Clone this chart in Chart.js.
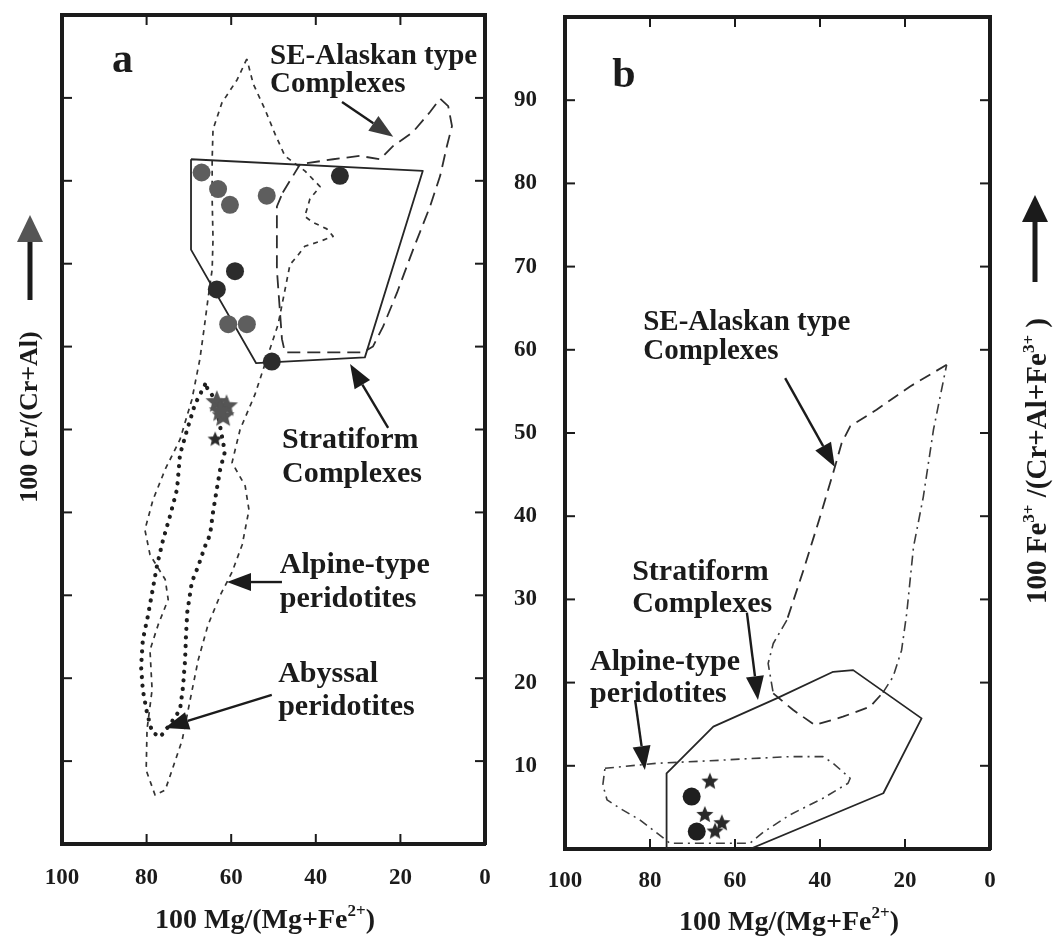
<!DOCTYPE html>
<html>
<head>
<meta charset="utf-8">
<script src="https://cdn.jsdelivr.net/npm/chart.js@4.4.0/dist/chart.umd.min.js"></script>
<style>
  body { margin: 0; background: #fff; }
  #wrap { position: relative; width: 1055px; height: 942px; }
  canvas { position: absolute; top: 0; }
  #chart-a { left: 0; }
  #chart-b { left: 500px; }
</style>
</head>
<body>
<div id="wrap">
  <canvas id="chart-a" width="520" height="942"></canvas>
  <canvas id="chart-b" width="555" height="942"></canvas>
</div>
<script>
// x = 100 Mg/(Mg+Fe2+), y = 100 Cr/(Cr+Al) (panel a) or 100 Fe3+/(Cr+Al+Fe3+) (panel b)
const xTickStep = 20;
const yTickStep = 10;

// panel a fields
const stratiformA = [[69.5,82.6],[14.7,81.2],[28.4,58.7],[54.1,58.0],[69.5,71.7],[69.5,82.6]];
const alaskanA = [[47.8,78.6],[43.7,82.0],[35.9,82.6],[29.6,83.0],[24.8,82.6],[21.7,84.2],[17.0,85.9],[13.0,88.3],
  [10.6,89.9],[8.7,89.0],[7.8,86.6],[9.0,84.2],[10.6,80.6],[13.0,76.9],[17.0,71.7],[20.8,66.5],[24.1,62.4],
  [26.5,60.0],[28.8,59.3],[47.3,59.3],[48.0,60.9],[49.2,69.3],[49.2,76.9],[47.8,78.6]];
const alpineA = [[56.3,94.7],[58.6,92.2],[62.2,89.4],[64.3,86.2],[64.5,82.6],[64.5,77.8],[64.3,73.0],[64.5,69.3],
  [65.5,65.7],[66.4,62.2],[67.4,58.5],[69.3,53.6],[72.1,48.8],[75.6,45.2],[78.5,41.5],[80.4,37.9],[79.2,34.9],
  [75.6,31.9],[74.9,29.5],[77.3,26.4],[79.2,23.4],[78.7,18.6],[79.9,13.8],[80.1,8.9],[78.0,5.9],[75.6,6.5],
  [74.0,8.9],[71.6,12.5],[69.7,17.4],[67.8,22.2],[65.5,26.4],[62.6,30.0],[59.8,32.8],[57.4,36.1],[55.8,40.3],
  [56.7,43.2],[59.8,46.0],[57.9,50.0],[54.4,54.2],[51.3,59.0],[48.9,62.7],[47.5,66.3],[46.1,69.9],[44.4,70.9],
  [42.6,72.1],[39.0,72.7],[35.9,73.3],[37.4,74.2],[40.7,75.0],[42.6,75.7],[41.4,77.8],[39.0,79.3],[42.6,81.2],
  [47.3,83.0],[49.6,85.6],[52.0,88.6],[54.8,91.7],[56.3,94.7]];
const abyssalA = [[66.2,55.4],[68.6,53.0],[70.4,50.0],[72.1,47.0],[72.8,42.8],[74.5,39.5],[76.1,36.7],[77.5,33.7],
  [78.7,30.3],[79.7,27.5],[80.9,24.6],[81.3,21.4],[80.9,18.6],[79.9,15.8],[78.7,13.5],[76.8,12.9],[74.5,14.4],
  [72.1,16.2],[71.4,18.9],[70.9,22.2],[70.7,25.0],[70.4,27.9],[69.3,31.6],[67.8,33.5],[66.2,35.9],[65.0,37.3],
  [64.3,40.0],[63.4,42.8],[62.6,45.2],[61.5,47.3],[63.8,53.6],[66.2,55.4]];

// panel a samples
const circlesGreyA = [[67.0,81.0],[63.1,79.0],[60.3,77.1],[51.6,78.2],[60.7,62.7],[56.3,62.7]];
const circlesDarkA = [[34.3,80.6],[59.1,69.1],[63.4,66.9],[50.4,58.2]];
const starsGreyA = [[63.4,53.3],[61.1,52.8],[61.9,51.6],[62.6,52.2]];
const starsDarkA = [[63.8,48.8]];

// panel b fields (null = break in the line)
const stratiformB = [[76.1,0],[76.1,9.1],[74.5,9.9],[65.1,14.7],[50.2,18.1],[36.9,21.3],[32.2,21.5],
  [16.1,15.7],[25.1,6.7],[56.5,0],[76.1,0]];
const alaskanDashB = [[10.2,58.2],[18.8,55.6],[26.7,52.8],[32.9,50.8],[34.9,48.8],[36.5,45.9],[40.0,39.9],
  [43.9,33.5],[47.8,27.5], null, [51.0,18.7],[46.3,16.7],[41.2,14.9],[34.6,15.9],[28.2,17.1],[25.2,18.8]];
const alaskanDotDashB = [[47.8,27.5],[51.0,24.7],[52.2,22.3],[51.0,18.7], null, [25.2,18.8],[22.8,20.7],
  [20.8,23.9],[19.6,28.3],[18.0,36.3],[15.7,42.3],[13.3,50.4],[11.4,55.2],[10.2,58.2]];
const alpineB = [[90.6,9.7],[78.4,10.3],[65.9,10.6],[58.8,10.8],[47.1,11.1],[39.3,11.1],[36.9,10.3],[32.9,8.5],
  [33.4,7.9],[39.3,6.1],[47.1,4.1],[53.4,2.0],[56.5,0.7],[75.3,0.7],[82.4,3.5],[87.1,4.9],[90.1,5.9],
  [91.1,7.7],[90.6,9.7]];

// panel b samples
const circlesB = [[70.2,6.3],[69.0,2.1]];
const starsB = [[65.9,8.1],[67.1,4.1],[63.1,3.1],[64.7,2.1]];

const ink = '#1b1b1b';
const serif = '"Liberation Serif", "Times New Roman", serif';

function pts(list) {
  return list.map(p => p ? { x: p[0], y: p[1] } : { x: null, y: null });
}

function starImage(r, color) {
  const c = document.createElement('canvas');
  c.width = c.height = Math.ceil(r * 2 + 2);
  const g = c.getContext('2d');
  const cx = c.width / 2, cy = c.height / 2;
  g.beginPath();
  for (let i = 0; i < 10; i++) {
    const rad = i % 2 ? r * 0.45 : r;
    const ang = -Math.PI / 2 + i * Math.PI / 5;
    g.lineTo(cx + rad * Math.cos(ang), cy + rad * Math.sin(ang));
  }
  g.closePath();
  g.fillStyle = color;
  g.fill();
  return c;
}

function outline(data, dash, color, width, cap) {
  return {
    data: pts(data), showLine: true, fill: false, pointRadius: 0, pointHoverRadius: 0,
    borderColor: color, borderWidth: width, borderDash: dash,
    borderCapStyle: cap || 'butt', borderJoinStyle: 'round', tension: 0, spanGaps: false
  };
}

function markers(data, style, radius, color) {
  return {
    data: pts(data), showLine: false, pointStyle: style, pointRadius: radius,
    pointHoverRadius: radius, backgroundColor: color, borderColor: color, borderWidth: 0
  };
}

// fixed axis sizes so the plot frame lands where the figure has it
function fixSize(prop, size) {
  return s => {
    s[prop] = size;
    s.paddingTop = s.paddingBottom = s.paddingLeft = s.paddingRight = 0;
  };
}

function frameScales(d) {
  const axis = extra => Object.assign({
    type: 'linear', min: 0, max: 100,
    grid: { display: false, drawTicks: false },
    border: { display: true, width: 4, color: ink }
  }, extra);
  const tickFont = { family: serif, size: 23, weight: 'bold' };
  return {
    x: axis({ position: 'bottom', reverse: true,
      ticks: { stepSize: xTickStep, font: tickFont, color: ink, padding: d.xPad },
      afterFit: fixSize('height', d.bottom) }),
    x2: axis({ position: 'top', reverse: true, ticks: { display: false, stepSize: xTickStep },
      afterFit: fixSize('height', d.top) }),
    y: axis({ position: 'left',
      ticks: { display: d.yLabels, stepSize: yTickStep, font: tickFont, color: ink, padding: d.yPad,
        callback: v => (v > 0 && v < 100 ? v : '') },
      afterFit: fixSize('width', d.left) }),
    y2: axis({ position: 'right', ticks: { display: false, stepSize: yTickStep },
      afterFit: fixSize('width', d.right) })
  };
}

// tick marks pointing into the plot on all four sides
const inwardTicks = {
  id: 'inwardTicks',
  afterDraw(chart) {
    const { ctx, chartArea: a } = chart;
    ctx.save();
    ctx.strokeStyle = ink;
    ctx.lineWidth = 2;
    for (const id of ['x', 'x2', 'y', 'y2']) {
      const s = chart.scales[id];
      s.ticks.forEach(t => {
        if (t.value <= s.min || t.value >= s.max) return;
        const p = s.getPixelForValue(t.value);
        ctx.beginPath();
        if (id === 'x') { ctx.moveTo(p, a.bottom); ctx.lineTo(p, a.bottom - 10); }
        if (id === 'x2') { ctx.moveTo(p, a.top); ctx.lineTo(p, a.top + 10); }
        if (id === 'y') { ctx.moveTo(a.left, p); ctx.lineTo(a.left + 10, p); }
        if (id === 'y2') { ctx.moveTo(a.right, p); ctx.lineTo(a.right - 10, p); }
        ctx.stroke();
      });
    }
    ctx.restore();
  }
};

function arrow(ctx, x1, y1, x2, y2, head, len, half, width) {
  const a = Math.atan2(y2 - y1, x2 - x1);
  const bx = x2 - len * Math.cos(a), by = y2 - len * Math.sin(a);
  ctx.strokeStyle = ink;
  ctx.lineWidth = width;
  ctx.beginPath();
  ctx.moveTo(x1, y1);
  ctx.lineTo(bx, by);
  ctx.stroke();
  ctx.fillStyle = head;
  ctx.beginPath();
  ctx.moveTo(x2, y2);
  ctx.lineTo(bx + half * Math.sin(a), by - half * Math.cos(a));
  ctx.lineTo(bx - half * Math.sin(a), by + half * Math.cos(a));
  ctx.closePath();
  ctx.fill();
}

// text with superscripts, centred on x, baseline y
function richText(ctx, parts, x, y, size) {
  const fontOf = p => `bold ${p.sup ? Math.round(size * 0.6) : size}px ${serif}`;
  const widths = parts.map(p => { ctx.font = fontOf(p); return ctx.measureText(p.t).width; });
  let cx = x - widths.reduce((s, w) => s + w, 0) / 2;
  ctx.textAlign = 'left';
  ctx.textBaseline = 'alphabetic';
  parts.forEach((p, i) => {
    ctx.font = fontOf(p);
    ctx.fillText(p.t, cx, p.sup ? y - size * 0.42 : y);
    cx += widths[i];
  });
}

function notesPlugin(n) {
  return {
    id: 'notes',
    afterDraw(chart) {
      const { ctx } = chart;
      const sx = chart.scales.x, sy = chart.scales.y;
      const px = p => [sx.getPixelForValue(p[0]), sy.getPixelForValue(p[1])];
      ctx.save();
      ctx.fillStyle = ink;
      ctx.textAlign = 'left';
      ctx.textBaseline = 'alphabetic';
      // panel letter
      ctx.font = `bold 42px ${serif}`;
      const [lx, ly] = px(n.letter.at);
      ctx.fillText(n.letter.t, lx, ly);
      // field labels
      n.labels.forEach(l => {
        ctx.font = `bold ${l.size || 30}px ${serif}`;
        const [x, y] = px(l.at);
        l.text.forEach((line, i) => ctx.fillText(line, x, y + i * l.lead));
      });
      // pointer arrows
      n.arrows.forEach(ar => {
        const [x1, y1] = px(ar.from);
        const [x2, y2] = px(ar.to);
        arrow(ctx, x1, y1, x2, y2, ar.head || ink, 24, 9, 2.4);
      });
      // x title
      ctx.fillStyle = ink;
      richText(ctx, n.xTitle.parts, n.xTitle.x, n.xTitle.y, 28);
      // y title, rotated, with its arrow
      ctx.save();
      ctx.translate(n.yTitle.x, n.yTitle.y);
      ctx.rotate(-Math.PI / 2);
      ctx.fillStyle = ink;
      richText(ctx, n.yTitle.parts, 0, n.yTitle.size * 0.35, n.yTitle.size);
      ctx.restore();
      const ya = n.yArrow;
      arrow(ctx, ya.x, ya.from, ya.x, ya.to, ya.head, 27, 13, 5);
      ctx.restore();
    }
  };
}

const notesA = {
  letter: { t: 'a', at: [88.2, 93.1] },
  labels: [
    { text: ['SE-Alaskan type', 'Complexes'], at: [50.8, 94.1], lead: 28, size: 29 },
    { text: ['Stratiform', 'Complexes'], at: [48.0, 47.8], lead: 34 },
    { text: ['Alpine-type', 'peridotites'], at: [48.5, 32.7], lead: 34 },
    { text: ['Abyssal', 'peridotites'], at: [48.9, 19.6], lead: 33 }
  ],
  arrows: [
    { from: [33.8, 89.5], to: [21.7, 85.3], head: '#3c3c3c' },
    { from: [22.9, 50.2], to: [31.9, 57.9] },
    { from: [48.0, 31.6], to: [61.0, 31.6] },
    { from: [50.4, 18.0], to: [75.7, 14.0] }
  ],
  xTitle: { x: 265, y: 928, parts: [{ t: '100 Mg/(Mg+Fe' }, { t: '2+', sup: true }, { t: ')' }] },
  yTitle: { x: 28, y: 417, size: 26, parts: [{ t: '100 Cr/(Cr+Al)' }] },
  yArrow: { x: 30, from: 300, to: 215, head: '#555' }
};

const notesB = {
  letter: { t: 'b', at: [88.9, 91.6] },
  labels: [
    { text: ['SE-Alaskan type', 'Complexes'], at: [81.6, 62.4], lead: 29, size: 29 },
    { text: ['Stratiform', 'Complexes'], at: [84.2, 32.3], lead: 32 },
    { text: ['Alpine-type', 'peridotites'], at: [94.1, 21.5], lead: 32 }
  ],
  arrows: [
    { from: [48.2, 56.6], to: [36.5, 45.9] },
    { from: [57.2, 28.4], to: [54.6, 17.9] },
    { from: [83.5, 17.9], to: [81.2, 9.5] }
  ],
  xTitle: { x: 289, y: 930, parts: [{ t: '100 Mg/(Mg+Fe' }, { t: '2+', sup: true }, { t: ')' }] },
  yTitle: { x: 536, y: 461, size: 29, parts: [{ t: '100 Fe' }, { t: '3+', sup: true },
    { t: ' /(Cr+Al+Fe' }, { t: '3+', sup: true }, { t: ' )' }] },
  yArrow: { x: 535, from: 282, to: 195, head: ink }
};

function makeChart(id, datasets, dims, notes) {
  return new Chart(document.getElementById(id), {
    type: 'scatter',
    data: { datasets },
    options: {
      responsive: false,
      animation: false,
      events: [],
      layout: { padding: 0 },
      plugins: { legend: { display: false }, tooltip: { enabled: false } },
      scales: frameScales(dims)
    },
    plugins: [inwardTicks, notesPlugin(notes)]
  });
}

const chartA = makeChart('chart-a', [
  markers(starsDarkA, starImage(8, '#2a2a2a'), 8, '#2a2a2a'),
  markers(starsGreyA, starImage(12, '#555'), 12, '#555'),
  markers(circlesDarkA, 'circle', 9, '#2c2c2c'),
  markers(circlesGreyA, 'circle', 9, '#5e5e5e'),
  outline(stratiformA, [], '#262626', 1.8),
  outline(alaskanA, [13, 7], '#2e2e2e', 1.8),
  outline(alpineA, [5, 5], '#333', 1.7),
  outline(abyssalA, [0.1, 8.5], '#1e1e1e', 4.2, 'round')
], { left: 62, right: 35, top: 15, bottom: 98, xPad: 20, yPad: 28, yLabels: false }, notesA);

const chartB = makeChart('chart-b', [
  markers(starsB, starImage(9, '#2a2a2a'), 9, '#2a2a2a'),
  markers(circlesB, 'circle', 9, '#1f1f1f'),
  outline(stratiformB, [], '#262626', 1.8),
  outline(alaskanDashB, [12, 7], '#2e2e2e', 1.8),
  outline(alaskanDotDashB, [10, 5, 2, 5], '#3a3a3a', 1.6),
  outline(alpineB, [9, 5, 2, 5], '#3c3c3c', 1.6)
], { left: 65, right: 65, top: 17, bottom: 93, xPad: 18, yPad: 28, yLabels: true }, notesB);
</script>
</body>
</html>
